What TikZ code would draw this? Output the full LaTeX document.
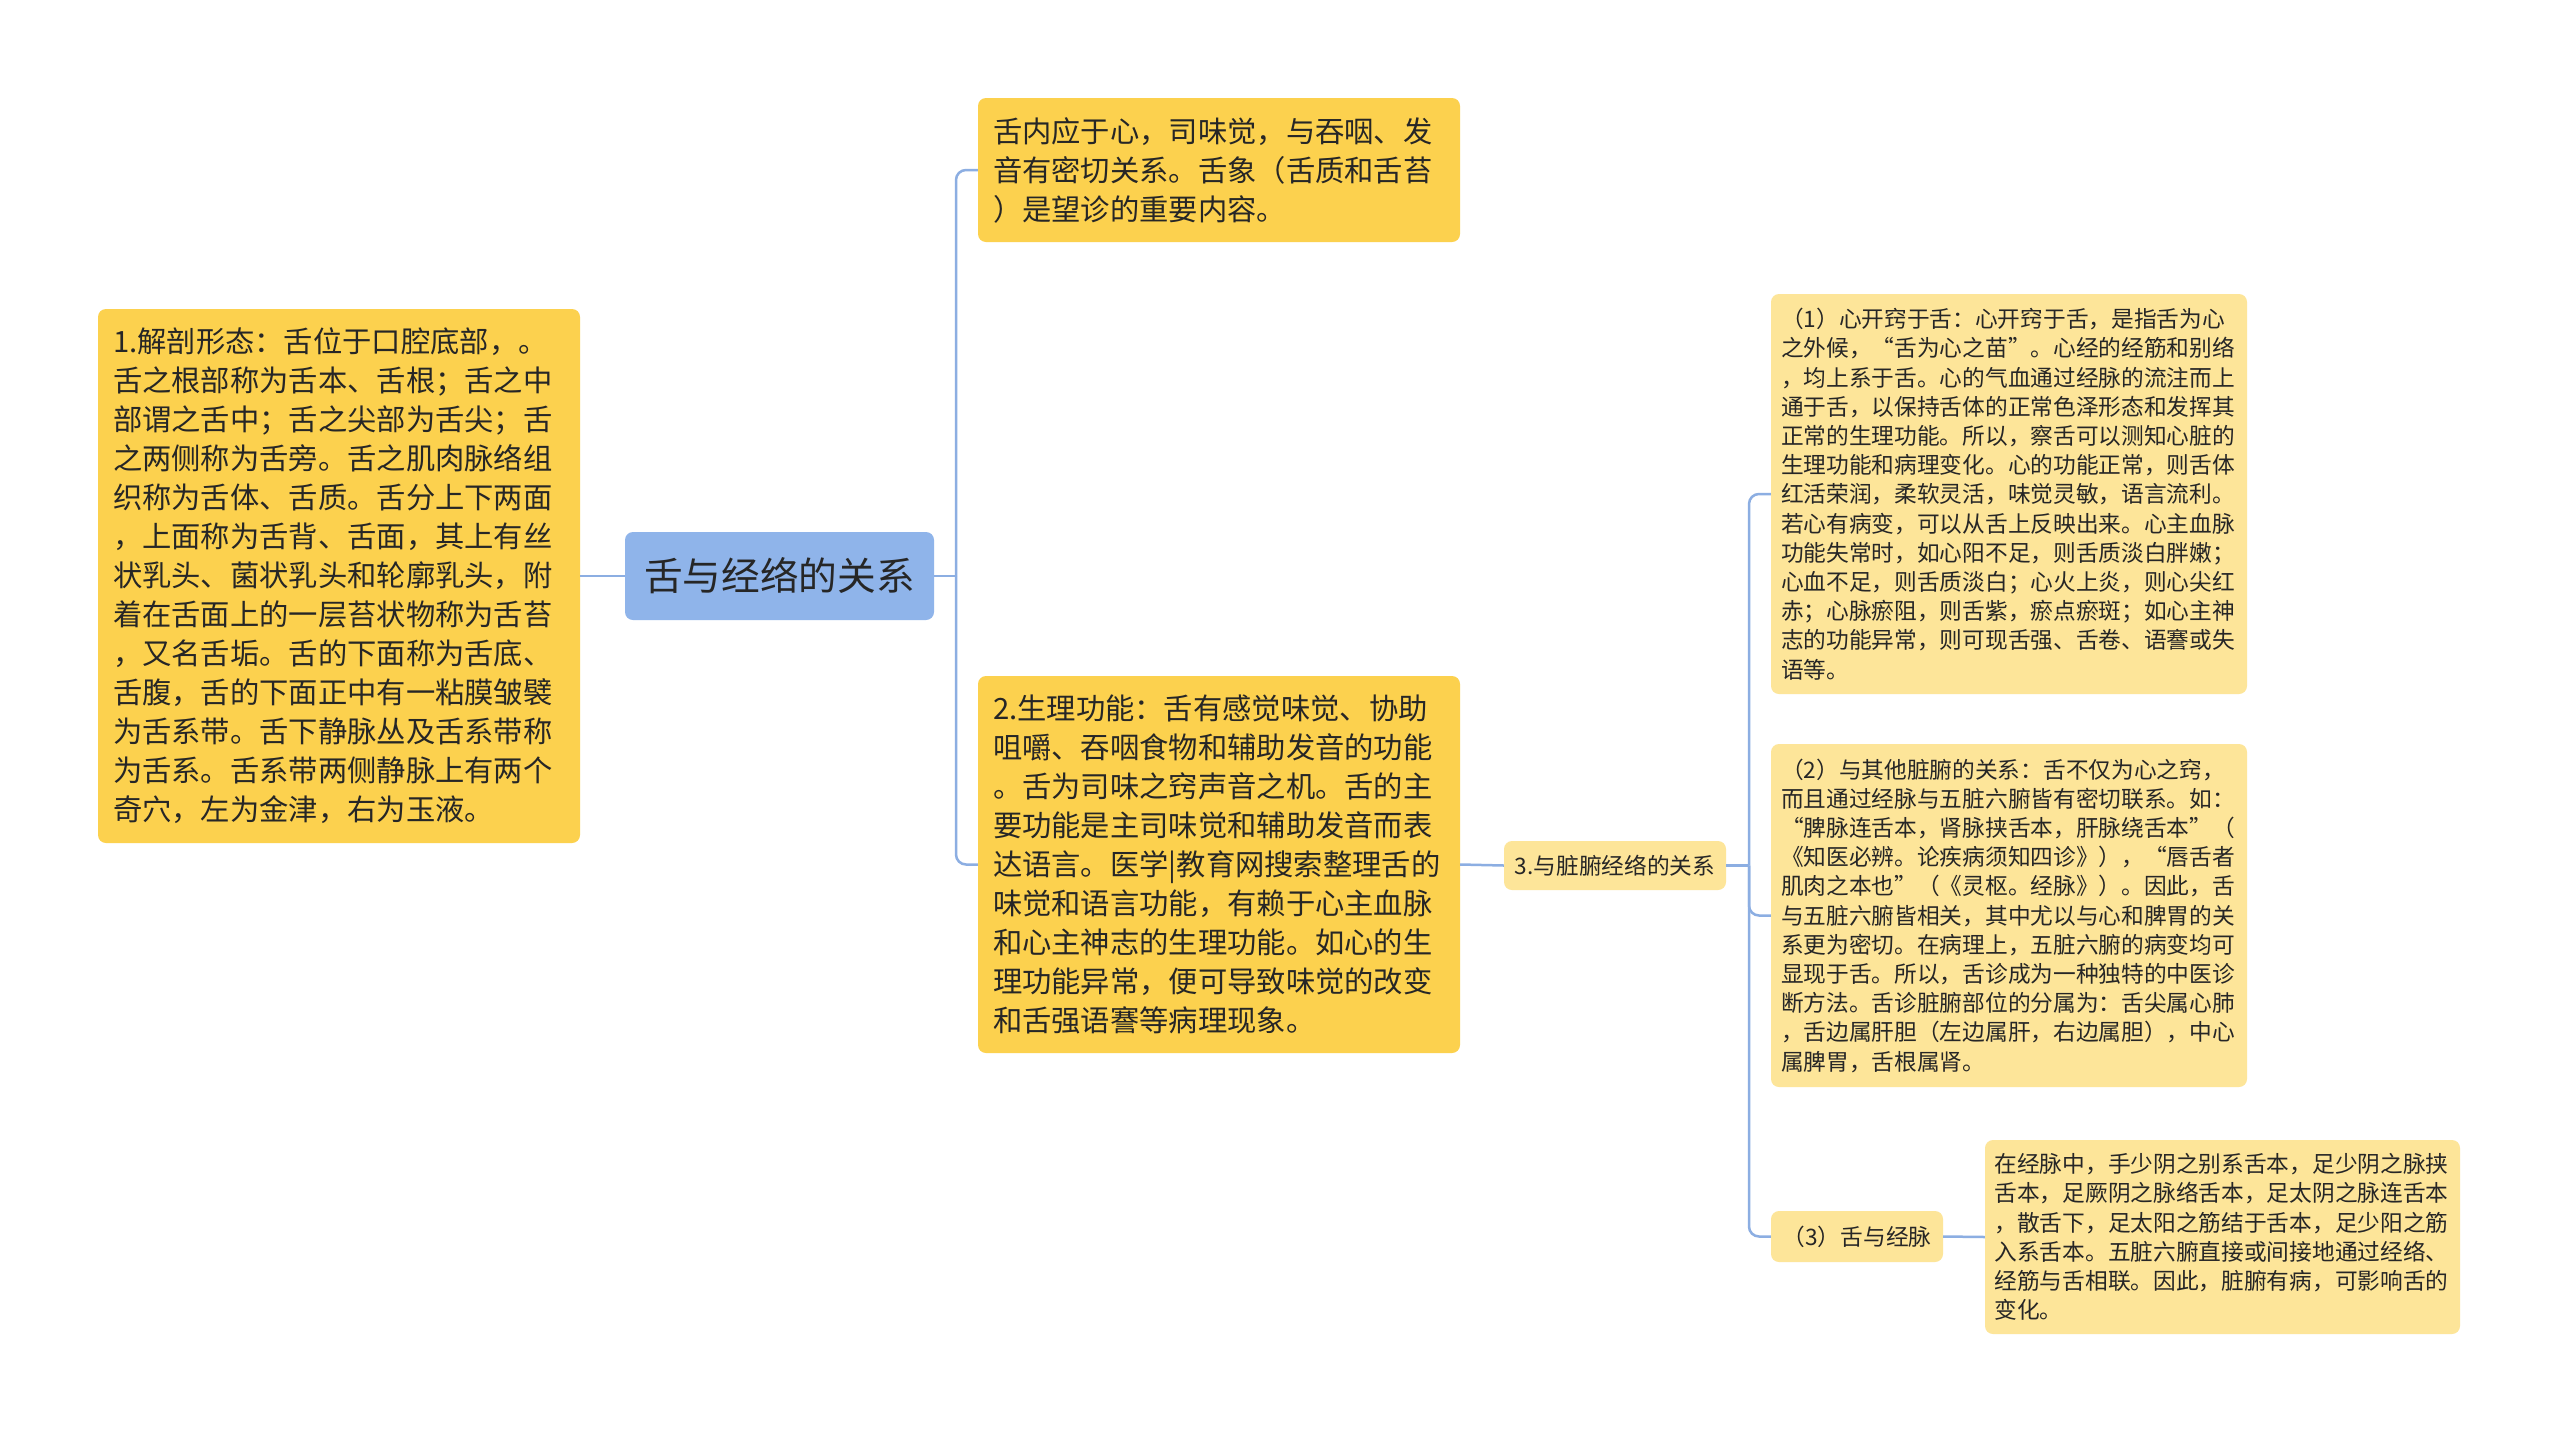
\documentclass[tikz,border=0pt]{standalone}
\usepackage{fontspec}
\usepackage{tikz}
\newfontfamily\cjk{Noto Sans CJK SC}
\definecolor{rootBlue}{RGB}{143,180,234}
\definecolor{linkBlue}{RGB}{140,174,226}
\definecolor{mainYellow}{RGB}{252,209,78}
\definecolor{paleYellow}{RGB}{253,229,153}
\definecolor{inkGray}{RGB}{38,38,38}
\newcommand{\rootFont}{\cjk\fontsize{38.7pt}{46pt}\selectfont}
\newcommand{\bodyFont}{\cjk\fontsize{29.3pt}{39pt}\selectfont}
\newcommand{\noteFont}{\cjk\fontsize{22.7pt}{29.2pt}\selectfont}
\tikzset{
  topic/.style={rounded corners=8pt, text=inkGray, inner sep=0pt, align=left},
  rootTopic/.style={topic, fill=rootBlue, font=\rootFont, align=center},
  mainTopic/.style={topic, fill=mainYellow, font=\bodyFont},
  subTopic/.style={topic, fill=paleYellow, font=\noteFont},
  link/.style={draw=linkBlue, line width=2.5pt, rounded corners=10pt},
}

\begin{document}
\begin{tikzpicture}[x=1pt,y=-1pt]
\useasboundingbox (0,0) rectangle (2560,1433);
\fill[white] (0,0) rectangle (2560,1433);
\node[rootTopic, minimum width=309pt, minimum height=88pt] (root) at (779.5,576) {舌与经络的关系};
\node[mainTopic, minimum width=482pt, minimum height=534pt, text width=452pt] (anat) at (339,576) {%
1.解剖形态：舌位于口腔底部，。\\
舌之根部称为舌本、舌根；舌之中\\
部谓之舌中；舌之尖部为舌尖；舌\\
之两侧称为舌旁。舌之肌肉脉络组\\
织称为舌体、舌质。舌分上下两面\\
，上面称为舌背、舌面，其上有丝\\
状乳头、菌状乳头和轮廓乳头，附\\
着在舌面上的一层苔状物称为舌苔\\
，又名舌垢。舌的下面称为舌底、\\
舌腹，舌的下面正中有一粘膜皱襞\\
为舌系带。舌下静脉丛及舌系带称\\
为舌系。舌系带两侧静脉上有两个\\
奇穴，左为金津，右为玉液。};
\node[mainTopic, minimum width=482pt, minimum height=144pt, text width=452pt] (intro) at (1219,170) {%
舌内应于心，司味觉，与吞咽、发\\
音有密切关系。舌象（舌质和舌苔\\
）是望诊的重要内容。};
\node[mainTopic, minimum width=482pt, minimum height=377pt, text width=452pt] (func) at (1219,864.5) {%
2.生理功能：舌有感觉味觉、协助\\
咀嚼、吞咽食物和辅助发音的功能\\
。舌为司味之窍声音之机。舌的主\\
要功能是主司味觉和辅助发音而表\\
达语言。医学|教育网搜索整理舌的\\
味觉和语言功能，有赖于心主血脉\\
和心主神志的生理功能。如心的生\\
理功能异常，便可导致味觉的改变\\
和舌强语謇等病理现象。};
\node[subTopic, align=center, minimum width=222pt, minimum height=49pt] (zang) at (1615,865.5) {3.与脏腑经络的关系};
\node[subTopic, minimum width=476pt, minimum height=400pt, text width=456pt] (heart) at (2009,494) {%
（1）心开窍于舌：心开窍于舌，是指舌为心\\
之外候，“舌为心之苗”。心经的经筋和别络\\
，均上系于舌。心的气血通过经脉的流注而上\\
通于舌，以保持舌体的正常色泽形态和发挥其\\
正常的生理功能。所以，察舌可以测知心脏的\\
生理功能和病理变化。心的功能正常，则舌体\\
红活荣润，柔软灵活，味觉灵敏，语言流利。\\
若心有病变，可以从舌上反映出来。心主血脉\\
功能失常时，如心阳不足，则舌质淡白胖嫩；\\
心血不足，则舌质淡白；心火上炎，则心尖红\\
赤；心脉瘀阻，则舌紫，瘀点瘀斑；如心主神\\
志的功能异常，则可现舌强、舌卷、语謇或失\\
语等。};
\node[subTopic, minimum width=476pt, minimum height=343pt, text width=456pt] (other) at (2009,915.5) {%
（2）与其他脏腑的关系：舌不仅为心之窍，\\
而且通过经脉与五脏六腑皆有密切联系。如：\\
“脾脉连舌本，肾脉挟舌本，肝脉绕舌本”（\\
《知医必辨。论疾病须知四诊》），“唇舌者\\
肌肉之本也”（《灵枢。经脉》）。因此，舌\\
与五脏六腑皆相关，其中尤以与心和脾胃的关\\
系更为密切。在病理上，五脏六腑的病变均可\\
显现于舌。所以，舌诊成为一种独特的中医诊\\
断方法。舌诊脏腑部位的分属为：舌尖属心肺\\
，舌边属肝胆（左边属肝，右边属胆），中心\\
属脾胃，舌根属肾。};
\node[subTopic, align=center, minimum width=172pt, minimum height=51pt] (jing) at (1857,1236.5) {（3）舌与经脉};
\node[subTopic, minimum width=475pt, minimum height=194pt, text width=456pt] (leaf) at (2222.5,1237) {%
在经脉中，手少阴之别系舌本，足少阴之脉挟\\
舌本，足厥阴之脉络舌本，足太阴之脉连舌本\\
，散舌下，足太阳之筋结于舌本，足少阳之筋\\
入系舌本。五脏六腑直接或间接地通过经络、\\
经筋与舌相联。因此，脏腑有病，可影响舌的\\
变化。};
\coordinate (rootFork) at (956,576);
\coordinate (zangFork) at (1749,865.5);
\draw[link] (anat.east) -- (root.west);
\draw[link] (root.east) -- (rootFork);
\draw[link] (rootFork) |- (intro.west);
\draw[link] (rootFork) |- (func.west);
\draw[link] (func.east) -- (zang.west);
\draw[link] (zang.east) -- (zangFork);
\draw[link] (zangFork) |- (heart.west);
\draw[link] (zangFork) |- (other.west);
\draw[link] (zangFork) |- (jing.west);
\draw[link] (jing.east) -- (leaf.west);
\end{tikzpicture}
\end{document}
